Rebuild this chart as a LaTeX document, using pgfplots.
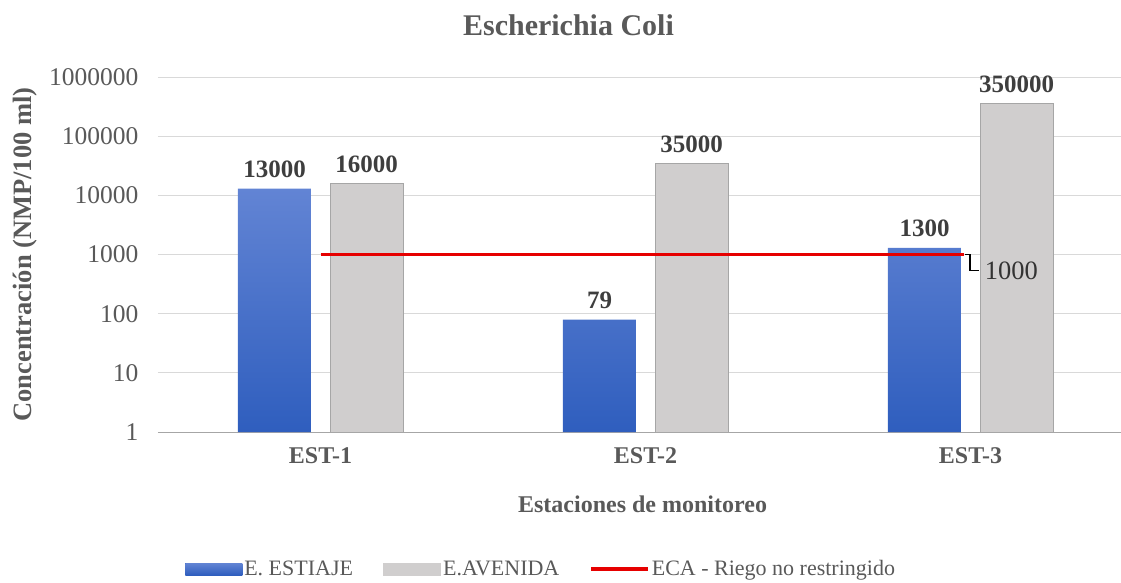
\documentclass[border=0pt]{standalone}
\usepackage{pgfplots}
\pgfplotsset{compat=1.18}
\usepackage{fontspec}
\setmainfont{Liberation Serif}
\definecolor{txtgray}{RGB}{89,89,89}
\definecolor{gridgray}{RGB}{217,217,217}
\definecolor{barblueT}{RGB}{98,132,212}
\definecolor{barblueB}{RGB}{47,94,190}
\definecolor{bargray}{RGB}{208,206,206}
\definecolor{bargrayE}{RGB}{166,166,166}
\definecolor{ecared}{RGB}{230,0,0}
\begin{document}
\begin{tikzpicture}
\useasboundingbox (-158pt,-150pt) rectangle (963pt,432pt);
\begin{axis}[
  at={(0,0)}, anchor=south west,
  scale only axis,
  width=975pt, height=355pt,
  xmin=-0.5, xmax=2.5,
  ymode=log, ymin=1, ymax=1000000,
  log basis y=10,
  ytick={1,10,100,1000,10000,100000,1000000},
  yticklabels={1,10,100,1000,10000,100000,1000000},
  xtick={0,1,2},
  xticklabels={EST-1,EST-2,EST-3},
  major tick length=0pt,
  minor tick num=0,
  axis x line*=bottom,
  axis y line*=left,
  x axis line style={draw=bargrayE, line width=1pt},
  y axis line style={draw=none},
  ymajorgrids,
  grid style={gridgray, line width=1pt},
  /pgf/number format/assume math mode=true,
  yticklabel style={font=\rmfamily\fontsize{25.5}{30}\selectfont, text=txtgray, xshift=-16pt},
  xticklabel style={font=\rmfamily\bfseries\fontsize{24}{28}\selectfont, text=txtgray, yshift=-12pt},
  title={\textbf{Escherichia Coli}},
  title style={font=\rmfamily\fontsize{30}{35}\selectfont, text=txtgray, at={(axis description cs:0.421,1.13)}, anchor=center},
  xlabel={\textbf{Estaciones de monitoreo}},
  xlabel style={font=\rmfamily\fontsize{24}{28}\selectfont, text=txtgray, at={(axis description cs:0.497,-0.205)}, anchor=center},
  ylabel={\textbf{Concentración (NMP/100 ml)}},
  ylabel style={font=\rmfamily\fontsize{26.5}{31}\selectfont, text=txtgray, at={(axis description cs:-0.136,0.5)}, anchor=center, rotate=0},
  legend columns=3,
  legend style={draw=none, fill=none, at={(axis description cs:0.393,-0.386)}, anchor=center,
    font=\rmfamily\fontsize{22}{26}\selectfont, text=txtgray,
    /tikz/every even column/.append style={column sep=28pt}},
  clip=false,
]
\addplot[ybar, bar width=0.225, bar shift=-0.142, draw=none,
  top color=barblueT, bottom color=barblueB,
  nodes near coords, point meta=explicit symbolic,
  every node near coord/.append style={font=\rmfamily\bfseries\fontsize{25}{30}\selectfont, text=txtgray!70!black, anchor=south, yshift=7pt, xshift=-46pt},
  legend image code/.code={\fill[barblueB] (-2pt,-6pt) rectangle (55pt,6pt);}]
  coordinates {(0,13000) [13000] (1,79) [79] (2,1300) [1300]};
\addlegendentry{E. ESTIAJE}
\addplot[ybar, bar width=0.225, bar shift=0.142, draw=bargrayE, line width=1pt,
  fill=bargray,
  nodes near coords, point meta=explicit symbolic,
  every node near coord/.append style={font=\rmfamily\bfseries\fontsize{25}{30}\selectfont, text=txtgray!70!black, anchor=south, yshift=7pt, xshift=46pt},
  legend image code/.code={\fill[bargray] (-2pt,-6pt) rectangle (55pt,6pt);}]
  coordinates {(0,16000) [16000] (1,35000) [35000] (2,350000) [350000]};
\addlegendentry{E.AVENIDA}
\addplot[ecared, line width=3.5pt,
  legend image code/.code={\draw[ecared, line width=3.5pt] (-2pt,0) -- (55pt,0);}]
  coordinates {(0,1000) (1.98,1000)};
\addlegendentry{ECA - Riego no restringido}
\coordinate (ecaend) at (axis cs:1.98,1000);
\end{axis}
\draw[black, line width=1.5pt] (ecaend) ++(1pt,0) -- ++(5pt,0) -- ++(0,-16pt) -- ++(9pt,0)
  node[right, inner sep=5pt, font=\rmfamily\fontsize{26.5}{31}\selectfont, text=black!80] {1000};
\end{tikzpicture}
\end{document}
